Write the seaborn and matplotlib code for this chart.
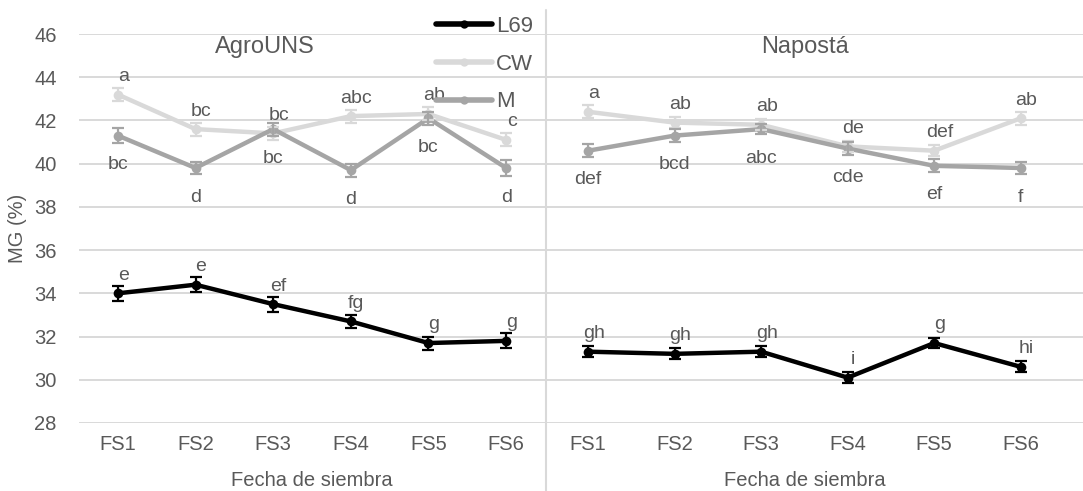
import matplotlib
matplotlib.use("Agg")
import matplotlib.pyplot as plt
import pandas as pd
import seaborn as sns
from matplotlib.lines import Line2D

# Sowing dates, cultivars and sites
dates = ["FS1", "FS2", "FS3", "FS4", "FS5", "FS6"]
cultivars = ["L69", "CW", "M"]
sites = ["AgroUNS", "Napostá"]

# Mean oil content, MG (%)
agro_l69 = [34.0, 34.4, 33.5, 32.7, 31.7, 31.8]
agro_cw = [43.2, 41.6, 41.4, 42.2, 42.3, 41.1]
agro_m = [41.3, 39.8, 41.6, 39.7, 42.1, 39.8]
nap_l69 = [31.3, 31.2, 31.3, 30.1, 31.7, 30.6]
nap_cw = [42.4, 41.9, 41.8, 40.8, 40.6, 42.1]
nap_m = [40.6, 41.3, 41.6, 40.7, 39.9, 39.8]

# Standard errors
agro_l69_se = [0.35, 0.35, 0.35, 0.3, 0.3, 0.35]
agro_cw_se = [0.3, 0.3, 0.3, 0.3, 0.3, 0.3]
agro_m_se = [0.35, 0.3, 0.3, 0.3, 0.3, 0.35]
nap_l69_se = [0.25, 0.25, 0.25, 0.25, 0.25, 0.25]
nap_cw_se = [0.3, 0.25, 0.25, 0.25, 0.25, 0.3]
nap_m_se = [0.3, 0.3, 0.25, 0.3, 0.3, 0.3]

# Mean comparison letters
agro_l69_lbl = ["e", "e", "ef", "fg", "g", "g"]
agro_cw_lbl = ["a", "bc", "bc", "abc", "ab", "c"]
agro_m_lbl = ["bc", "d", "bc", "d", "bc", "d"]
nap_l69_lbl = ["gh", "gh", "gh", "i", "g", "hi"]
nap_cw_lbl = ["a", "ab", "ab", "de", "def", "ab"]
nap_m_lbl = ["def", "bcd", "abc", "cde", "ef", "f"]

means = {
    "AgroUNS": {"L69": agro_l69, "CW": agro_cw, "M": agro_m},
    "Napostá": {"L69": nap_l69, "CW": nap_cw, "M": nap_m},
}
errors = {
    "AgroUNS": {"L69": agro_l69_se, "CW": agro_cw_se, "M": agro_m_se},
    "Napostá": {"L69": nap_l69_se, "CW": nap_cw_se, "M": nap_m_se},
}
letters = {
    "AgroUNS": {"L69": agro_l69_lbl, "CW": agro_cw_lbl, "M": agro_m_lbl},
    "Napostá": {"L69": nap_l69_lbl, "CW": nap_cw_lbl, "M": nap_m_lbl},
}

rows = []
for site in sites:
    for cv in cultivars:
        for d, v, e, l in zip(dates, means[site][cv], errors[site][cv], letters[site][cv]):
            rows.append({"sitio": site, "cultivar": cv, "fecha": d, "mg": v, "se": e, "letra": l})
df = pd.DataFrame(rows)

sns.set_theme(style="white")
plt.rcParams["font.family"] = ["Liberation Sans", "DejaVu Sans"]

TXT = "#595959"
GRID = "#d9d9d9"
palette = {"L69": "#000000", "CW": "#d9d9d9", "M": "#a5a5a5"}
label_side = {"L69": "above", "CW": "above", "M": "below"}

W, H = 1083, 491
fig = plt.figure(figsize=(W / 100, H / 100), dpi=100)
top_px, bot_px = 34, 423
ax_l = fig.add_axes([79 / W, 1 - bot_px / H, (545 - 79) / W, (bot_px - top_px) / H])
ax_r = fig.add_axes([545 / W, 1 - bot_px / H, (W - 545) / W, (bot_px - top_px) / H])

for ax, site in zip([ax_l, ax_r], sites):
    sub = df[df["sitio"] == site]
    sns.lineplot(data=sub, x="fecha", y="mg", hue="cultivar", hue_order=cultivars,
                 palette=palette, marker="o", markersize=7, markeredgewidth=0,
                 linewidth=3.2, sort=False, legend=False, ax=ax, zorder=3)
    for cv in cultivars:
        s = sub[sub["cultivar"] == cv]
        xs = list(range(len(s)))
        ax.errorbar(xs, s["mg"], yerr=s["se"], fmt="none", ecolor=palette[cv],
                    elinewidth=1.6, capsize=4, capthick=1.6, zorder=3)
        for x, y, t in zip(xs, s["mg"], s["letra"]):
            if label_side[cv] == "above":
                off = (4, 13)
            else:
                off = (0, -21)
            ax.annotate(t, (x, y), xytext=off, textcoords="offset points",
                        ha="center", va="center", fontsize=14, color=TXT, zorder=4)

    ax.set_ylim(28, 46)
    ax.set_yticks(range(28, 47, 2))
    ax.yaxis.grid(True, color=GRID, linewidth=1.4)
    ax.xaxis.grid(False)
    ax.set_axisbelow(True)
    for sp in ax.spines.values():
        sp.set_visible(False)
    ax.tick_params(axis="both", length=0, labelsize=14.5, colors=TXT)
    ax.tick_params(axis="x", pad=9)
    ax.set_xlabel("Fecha de siembra", fontsize=14.5, color=TXT, va="center")

ax_l.set_xlim(-0.5, 5.5)
ax_r.set_xlim(-0.5, 5.5 + 19 / 86)
ax_l.tick_params(axis="y", pad=16)
ax_r.tick_params(axis="y", labelleft=False)
ax_l.set_ylabel("MG (%)", fontsize=14.5, color=TXT, va="center")
ax_r.set_ylabel("")
ax_l.yaxis.set_label_coords((18 - 79) / 466, 0.5)
ax_l.xaxis.set_label_coords(0.5, -(481 - bot_px) / (bot_px - top_px))
ax_r.xaxis.set_label_coords((805 - 545) / (W - 545), -(481 - bot_px) / (bot_px - top_px))

ax_l.text((265 - 79) / 466, (bot_px - 47) / (bot_px - top_px), "AgroUNS",
          transform=ax_l.transAxes, ha="center", va="center", fontsize=17, color=TXT)
ax_r.text((805 - 545) / (W - 545), (bot_px - 47) / (bot_px - top_px), "Napostá",
          transform=ax_r.transAxes, ha="center", va="center", fontsize=17, color=TXT)

# divider between the two sites
fig.add_artist(Line2D([546 / W, 546 / W], [0, 1 - 10 / H], color=GRID, linewidth=1.5))

handles = [Line2D([], [], color=palette[cv], linewidth=4, marker="o", markersize=6,
                  markeredgewidth=0) for cv in cultivars]
fig.legend(handles, cultivars, loc="upper left", bbox_to_anchor=(436 / W, 1 - 16 / H),
           frameon=False, fontsize=16, labelcolor=TXT, handlelength=2.5,
           handletextpad=0.2, labelspacing=0.75, borderpad=0, borderaxespad=0)

fig.savefig("out.png", dpi=100)
